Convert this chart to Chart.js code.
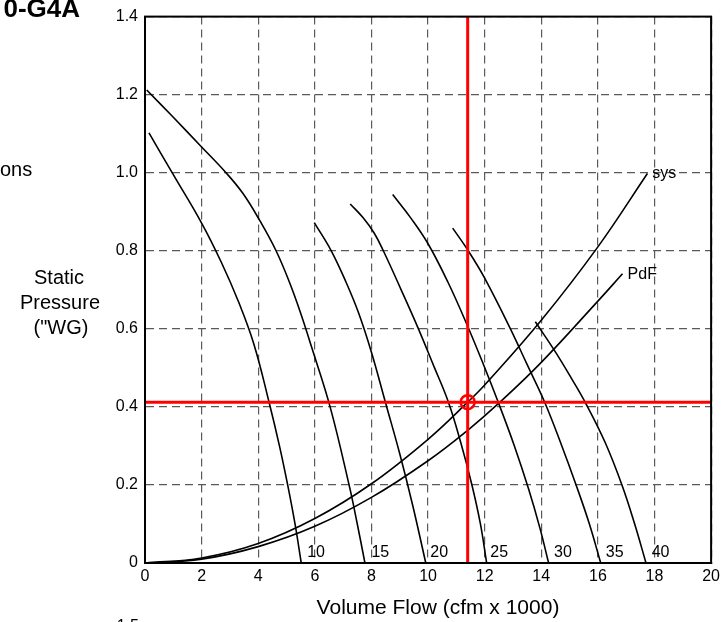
<!DOCTYPE html>
<html>
<head>
<meta charset="utf-8">
<script src="https://cdn.jsdelivr.net/npm/chart.js@4.4.1/dist/chart.umd.min.js"></script>
<style>
html,body{margin:0;padding:0;background:#fff;}
#wrap{position:relative;width:724px;height:622px;overflow:hidden;}
</style>
</head>
<body>
<div id="wrap"><canvas id="c" width="724" height="622"></canvas></div>
<script>
// ---- tick labels ----
const xTickLabels = ['0','2','4','6','8','10','12','14','16','18','20'];
const yTickLabels = ['0','0.2','0.4','0.6','0.8','1.0','1.2','1.4'];

// ---- fan speed curves (flow in cfm x 1000, static pressure in "WG) ----
const fanSpeedLabels = ['10','15','20','25','30','35','40'];
const fanLabelFlow = [5.73, 8.0, 10.08, 12.2, 14.45, 16.28, 17.9];
const fanLabelPressure = [0.026, 0.026, 0.026, 0.026, 0.026, 0.026, 0.026];

const fan10Flow     = [0.14, 1.0, 2.0, 2.7, 3.3, 3.85, 4.39, 4.75, 5.04, 5.3, 5.52];
const fan10Pressure = [1.102, 0.995, 0.871, 0.77, 0.67, 0.56, 0.41, 0.3, 0.2, 0.1, 0];

const fan15Flow     = [0.06, 1.0, 2.0, 2.8, 3.45, 4.05, 4.63, 5.1, 5.5, 5.9, 6.54, 7.21, 7.5, 7.77];
const fan15Pressure = [1.212, 1.142, 1.066, 1.005, 0.948, 0.878, 0.8, 0.72, 0.64, 0.55, 0.4, 0.2, 0.1, 0];

const fan20Flow     = [5.98, 6.58, 7.1, 7.55, 8.0, 8.5, 9.0, 9.45, 9.92];
const fan20Pressure = [0.872, 0.8, 0.72, 0.64, 0.54, 0.41, 0.28, 0.15, 0];

const fan25Flow     = [7.25, 7.7, 8.1, 8.42, 9.05, 9.66, 10.2, 10.72, 11.15, 11.55, 11.85, 12.07];
const fan25Pressure = [0.92, 0.885, 0.845, 0.8, 0.7, 0.6, 0.505, 0.412, 0.31, 0.2, 0.1, 0];

const fan30Flow     = [8.75, 9.4, 10.0, 10.7, 11.35, 11.95, 12.48, 13.05, 13.55, 13.95, 14.26];
const fan30Pressure = [0.944, 0.883, 0.818, 0.72, 0.615, 0.51, 0.412, 0.3, 0.19, 0.09, 0];

const fan35Flow     = [10.87, 11.42, 12.0, 12.91, 13.49, 14.12, 14.7, 15.23, 15.7, 16.1];
const fan35Pressure = [0.858, 0.8, 0.73, 0.6, 0.51, 0.412, 0.305, 0.2, 0.1, 0];

const fan40Flow     = [13.79, 14.47, 15.05, 15.58, 16.25, 16.85, 17.3, 17.7];
const fan40Pressure = [0.618, 0.544, 0.475, 0.408, 0.31, 0.2, 0.1, 0];

// ---- system curves ----
const sysFlow     = [0, 2, 4, 6, 8, 10, 11.4, 12, 14, 16, 17.75];
const sysPressure = [0, 0.013, 0.05, 0.114, 0.203, 0.317, 0.412, 0.456, 0.622, 0.81, 0.998];
const pdfFlow     = [0, 2, 4, 6, 8, 10, 11.4, 12.54, 14, 16, 16.87];
const pdfPressure = [0, 0.01, 0.042, 0.094, 0.168, 0.262, 0.34, 0.412, 0.514, 0.671, 0.741];
const curveNameLabels = ['sys', 'PdF'];
const curveNameFlow = [17.92, 17.05];
const curveNamePressure = [0.998, 0.74];

// ---- operating point ----
const operatingFlow = 11.4;
const operatingPressure = 0.412;

const X_MIN = 0, X_MAX = 20, Y_MIN = 0, Y_MAX = 1.4;

function pts(xs, ys){ return xs.map((x,i)=>({x:x, y:ys[i]})); }

const FONT = "'Liberation Sans', Arial, Helvetica, sans-serif";

const fanCurves = [
  [fan10Flow, fan10Pressure],[fan15Flow, fan15Pressure],[fan20Flow, fan20Pressure],
  [fan25Flow, fan25Pressure],[fan30Flow, fan30Pressure],[fan35Flow, fan35Pressure],
  [fan40Flow, fan40Pressure]
];

const datasets = [];
// red operating lines first (drawn on top)
datasets.push({label:'op-point', data:[{x:operatingFlow,y:operatingPressure}], showLine:false,
  pointRadius:7, pointBorderWidth:2.5, pointBorderColor:'#ff0000', pointBackgroundColor:'rgba(0,0,0,0)'});
datasets.push({label:'op-v', data:[{x:operatingFlow,y:Y_MIN},{x:operatingFlow,y:Y_MAX}], showLine:true,
  borderColor:'#ff0000', borderWidth:3, pointRadius:0, tension:0});
datasets.push({label:'op-h', data:[{x:X_MIN,y:operatingPressure},{x:X_MAX,y:operatingPressure}], showLine:true,
  borderColor:'#ff0000', borderWidth:3, pointRadius:0, tension:0});
datasets.push({label:'sys', data:pts(sysFlow, sysPressure), showLine:true, borderColor:'#000', borderWidth:1.6,
  pointRadius:0, tension:0.4});
datasets.push({label:'PdF', data:pts(pdfFlow, pdfPressure), showLine:true, borderColor:'#000', borderWidth:1.6,
  pointRadius:0, tension:0.4});
fanCurves.forEach((c,i)=>{
  datasets.push({label:'fan '+fanSpeedLabels[i], data:pts(c[0], c[1]), showLine:true, borderColor:'#000',
    borderWidth:1.6, pointRadius:0, tension:0.4});
});

const textPlugin = {
  id:'texts',
  afterDraw(chart){
    const ctx = chart.ctx, a = chart.chartArea, xs = chart.scales.x, ys = chart.scales.y;
    ctx.save();
    // frame
    ctx.strokeStyle = '#000'; ctx.lineWidth = 2;
    ctx.strokeRect(a.left, a.top, a.right - a.left, a.bottom - a.top);
    // fan speed labels
    ctx.fillStyle = '#000';
    ctx.font = '16px ' + FONT;
    ctx.textAlign = 'left'; ctx.textBaseline = 'middle';
    fanSpeedLabels.forEach((t,i)=>{
      ctx.fillText(t, xs.getPixelForValue(fanLabelFlow[i]), ys.getPixelForValue(fanLabelPressure[i]));
    });
    curveNameLabels.forEach((t,i)=>{
      ctx.fillText(t, xs.getPixelForValue(curveNameFlow[i]), ys.getPixelForValue(curveNamePressure[i]));
    });
    // outer texts
    ctx.font = 'bold 26px ' + FONT;
    ctx.textAlign = 'right'; ctx.textBaseline = 'alphabetic';
    ctx.fillText('0-G4A', 80, 17);
    ctx.font = '20px ' + FONT;
    ctx.textAlign = 'left';
    ctx.fillText('ons', 0, 176);
    ctx.textAlign = 'center';
    ctx.fillText('Static', 59, 284);
    ctx.fillText('Pressure', 60, 309);
    ctx.fillText('("WG)', 61, 334);
    ctx.font = '21px ' + FONT;
    ctx.fillText('Volume Flow (cfm x 1000)', 438, 614);
    ctx.font = '16px ' + FONT;
    ctx.textAlign = 'right';
    ctx.fillText('1.5', 139, 631);
    ctx.restore();
  }
};

new Chart(document.getElementById('c'), {
  type:'scatter',
  data:{datasets:datasets},
  options:{
    responsive:false,
    animation:false,
    layout:{padding:{top:14, right:10, left:0, bottom:0}},
    plugins:{legend:{display:false}, tooltip:{enabled:false}},
    scales:{
      x:{
        type:'linear', min:X_MIN, max:X_MAX,
        ticks:{stepSize:2, color:'#000', padding:4, font:{family:FONT, size:16},
          callback:(v,i)=>xTickLabels[i]},
        grid:{color:'#5a5a5a', lineWidth:1.2, drawTicks:false},
        border:{display:true, color:'#000', width:2, dash:[8,5]},
        afterFit(s){ s.height = 59; }
      },
      y:{
        type:'linear', min:Y_MIN, max:Y_MAX,
        ticks:{stepSize:0.2, color:'#000', padding:7, font:{family:FONT, size:16},
          callback:(v,i)=>yTickLabels[i]},
        grid:{color:'#5a5a5a', lineWidth:1.2, drawTicks:false},
        border:{display:true, color:'#000', width:2, dash:[8,5]},
        afterFit(s){ s.width = 145; }
      }
    }
  },
  plugins:[textPlugin]
});
</script>
</body>
</html>
